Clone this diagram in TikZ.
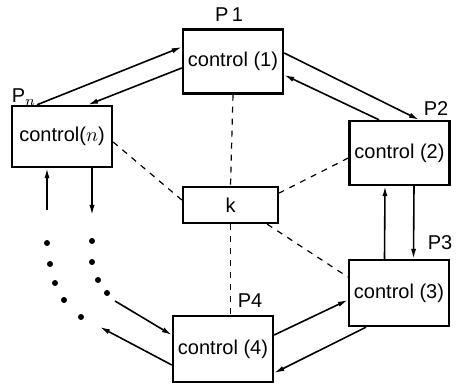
\documentclass[tikz,border=0pt]{standalone}
\usepackage{fontspec}
\setmainfont{Liberation Sans}
\usetikzlibrary{arrows.meta}
\tikzset{>={Latex[length=5pt,width=2.6pt]}}
\begin{document}
\begin{tikzpicture}[x=0.5pt,y=-0.5pt, font=\fontsize{10}{12}\selectfont,
  proc/.style={draw, line width=1.2pt, minimum width=50pt, minimum height=32pt, inner sep=0pt},
  lnk/.style={->, line width=0.8pt},
  share/.style={dashed, line width=0.6pt}]
\useasboundingbox (0,0) rectangle (456,384);

\node[proc] (ctl1) at (233,61.5) {control (1)};
\node[proc, minimum height=30.5pt] (ctln) at (62,136.5) {control($n$)};
\node[proc] (ctl2) at (399.5,153) {control (2)};
\node[proc, minimum width=47.5pt, minimum height=18pt] (kern) at (230.5,205) {k};
\node[proc, minimum height=33pt] (ctl3) at (399,293) {control (3)};
\node[proc, minimum height=33pt] (ctl4) at (223,349) {control (4)};

\node (p1) at (229,15) {P\,1};
\node (pn) at (24,97) {P$_n$};
\node (p2) at (436,109) {P2};
\node (p3) at (440,243) {P3};
\node (p4) at (250,301) {P4};

% ring of messages
\draw[lnk] ([xshift=-12.5pt]ctln.north) -- ([yshift=7.25pt]ctl1.west);
\draw[lnk] ([yshift=-3.25pt]ctl1.west) -- ([xshift=13pt]ctln.north);
\draw[lnk] ([yshift=4.25pt]ctl1.east) -- ([xshift=9.75pt]ctl2.north);
\draw[lnk] ([xshift=-10.25pt]ctl2.north) -- ([yshift=-6.75pt]ctl1.east);
\draw[lnk] ([xshift=-7.25pt]ctl3.north) -- ([xshift=-7.25pt]ctl2.south);
\draw[lnk] ([xshift=7.25pt]ctl2.south) -- ([xshift=7.25pt]ctl3.north);
\draw[lnk] ([yshift=7pt]ctl4.east) -- ([yshift=-3.5pt]ctl3.west);
\draw[lnk] ([xshift=-16.5pt]ctl3.south) -- ([yshift=-12pt]ctl4.east);

\coordinate (inA) at (115,301);
\coordinate (outA) at (100,327);
\coordinate (inB) at (47,210);
\coordinate (outB) at (92,215);
\draw[lnk] (inA) -- ([yshift=7pt]ctl4.west);
\draw[lnk] ([yshift=-8pt]ctl4.west) -- (outA);
\draw[lnk] (inB) -- (inB |- ctln.south);
\draw[lnk] (outB |- ctln.south) -- (outB);

\foreach \a/\b in {47/243,50/264,55/283,64/300,81/317,92/241,92/262,98/280,107/293}
\fill (\a,\b) circle (1.5pt);

% shared k
\draw[share] (ctl1.south) -- (kern.north);
\draw[share] (kern.south) -- (kern.south |- ctl4.north);
\draw[share] ([yshift=-2.75pt]ctln.east) -- ([yshift=2.5pt]kern.west);
\draw[share] ([yshift=-2.5pt]ctl2.west) -- ([yshift=6pt]kern.east);
\draw[share] ([xshift=-6pt]kern.south east) -- ([yshift=8pt]ctl3.west);

\end{tikzpicture}
\end{document}
